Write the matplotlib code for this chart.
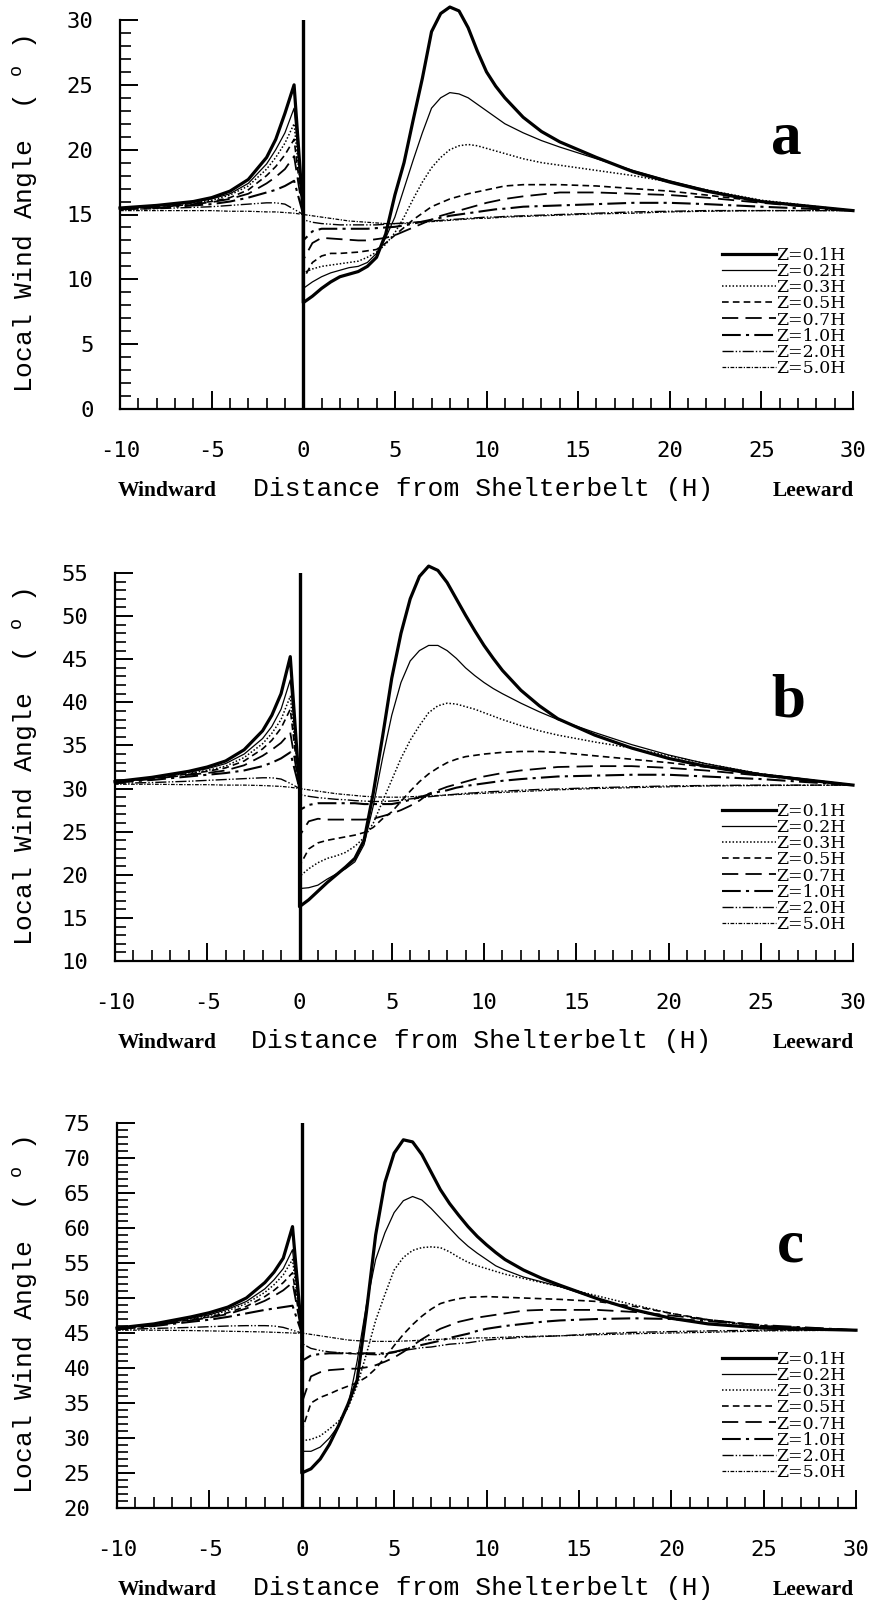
"""Local wind angle around a shelterbelt, three incidence angles."""

import matplotlib

matplotlib.use("Agg")
import matplotlib.pyplot as plt
from matplotlib.ticker import MultipleLocator

plt.rcParams["font.family"] = "DejaVu Sans Mono"
plt.rcParams["axes.unicode_minus"] = False
plt.rcParams["mathtext.fontset"] = "custom"
plt.rcParams["mathtext.rm"] = "Liberation Mono"

W, H = 885, 1603

Z_LABELS = ["Z=0.1H", "Z=0.2H", "Z=0.3H", "Z=0.5H", "Z=0.7H", "Z=1.0H", "Z=2.0H", "Z=5.0H"]
WALL_X = 0

WIND_X = [-10, -8, -6, -5, -4, -3, -2, -1.5, -1, -0.5, 0]
LEE_X = [0, 0.5, 1, 1.5, 2, 2.5, 3, 3.5, 4, 4.5, 5, 5.5, 6, 6.5, 7, 7.5, 8, 8.5, 9,
         9.5, 10, 10.5, 11, 12, 13, 14, 16, 18, 20, 22, 25, 30]

# panel a (15 deg)
A_WIND = [
    [15.5, 15.7, 16.0, 16.3, 16.8, 17.7, 19.4, 20.8, 22.8, 25.0, 15.0],
    [15.5, 15.7, 15.95, 16.2, 16.6, 17.4, 18.9, 20.0, 21.3, 23.2, 15.0],
    [15.5, 15.65, 15.9, 16.1, 16.5, 17.2, 18.5, 19.4, 20.5, 22.0, 15.0],
    [15.45, 15.6, 15.85, 16.0, 16.3, 16.9, 18.0, 18.7, 19.6, 20.8, 15.0],
    [15.45, 15.55, 15.8, 15.95, 16.2, 16.6, 17.4, 17.9, 18.5, 19.5, 15.0],
    [15.4, 15.5, 15.7, 15.8, 16.0, 16.3, 16.7, 16.9, 17.2, 17.6, 15.0],
    [15.4, 15.45, 15.55, 15.6, 15.7, 15.8, 15.9, 15.9, 15.8, 15.4, 15.0],
    [15.3, 15.3, 15.3, 15.3, 15.25, 15.25, 15.2, 15.2, 15.15, 15.1, 15.0],
]
A_LEE = [
    [8.2, 8.7, 9.3, 9.8, 10.2, 10.4, 10.6, 11.0, 11.7, 13.5, 16.5, 19.0, 22.3, 25.5, 29.1, 30.5,
     31.0, 30.7, 29.4, 27.6, 26.0, 24.9, 24.0, 22.5, 21.4, 20.6, 19.4, 18.3, 17.5, 16.8, 16.0, 15.3],
    [9.3, 9.8, 10.2, 10.5, 10.7, 10.9, 11.0, 11.3, 12.0, 13.2, 14.8, 17.0, 19.2, 21.3, 23.2, 24.0,
     24.4, 24.3, 24.0, 23.5, 23.0, 22.5, 22.0, 21.3, 20.7, 20.2, 19.3, 18.4, 17.6, 16.9, 16.0, 15.3],
    [10.5, 10.8, 11.0, 11.1, 11.2, 11.3, 11.4, 11.7, 12.1, 12.7, 13.6, 14.8, 16.2, 17.5, 18.6, 19.4,
     20.0, 20.3, 20.4, 20.3, 20.1, 19.9, 19.7, 19.3, 19.0, 18.8, 18.4, 18.0, 17.5, 16.9, 16.1, 15.3],
    [10.0, 11.3, 11.8, 12.0, 12.0, 12.05, 12.1, 12.2, 12.3, 12.8, 13.4, 14.0, 14.6, 15.1, 15.6, 15.9,
     16.2, 16.4, 16.6, 16.75, 16.9, 17.05, 17.2, 17.3, 17.3, 17.3, 17.2, 17.0, 16.8, 16.5, 16.0, 15.3],
    [11.5, 12.8, 13.2, 13.15, 13.1, 13.05, 13.0, 13.0, 13.1, 13.2, 13.4, 13.7, 14.0, 14.3, 14.6, 14.9,
     15.1, 15.3, 15.5, 15.7, 15.9, 16.05, 16.2, 16.4, 16.55, 16.7, 16.7, 16.6, 16.5, 16.3, 15.9, 15.3],
    [13.0, 13.7, 13.9, 13.9, 13.9, 13.9, 13.9, 13.9, 13.95, 14.0, 14.05, 14.15, 14.3, 14.45, 14.6, 14.75,
     14.9, 15.0, 15.1, 15.2, 15.3, 15.4, 15.45, 15.6, 15.65, 15.7, 15.8, 15.9, 15.9, 15.8, 15.6, 15.3],
    [14.6, 14.4, 14.3, 14.25, 14.2, 14.2, 14.2, 14.2, 14.2, 14.25, 14.3, 14.35, 14.4, 14.45, 14.5, 14.55,
     14.6, 14.65, 14.7, 14.75, 14.8, 14.8, 14.85, 14.9, 14.95, 15.0, 15.1, 15.2, 15.25, 15.3, 15.3, 15.3],
    [15.0, 14.9, 14.8, 14.7, 14.6, 14.5, 14.45, 14.4, 14.35, 14.3, 14.3, 14.3, 14.35, 14.4, 14.45, 14.5,
     14.55, 14.6, 14.65, 14.7, 14.7, 14.75, 14.8, 14.85, 14.9, 14.95, 15.05, 15.1, 15.2, 15.25, 15.3, 15.3],
]

# panel b (30 deg)
B_WIND = [
    [30.8, 31.3, 32.0, 32.5, 33.2, 34.5, 36.7, 38.5, 41.0, 45.3, 30.0],
    [30.8, 31.25, 31.9, 32.3, 32.9, 34.0, 35.8, 37.2, 39.2, 42.6, 30.0],
    [30.75, 31.2, 31.8, 32.1, 32.6, 33.6, 35.2, 36.4, 38.0, 40.7, 30.0],
    [30.75, 31.15, 31.7, 32.0, 32.4, 33.2, 34.6, 35.6, 37.0, 39.2, 30.0],
    [30.7, 31.1, 31.6, 31.8, 32.1, 32.7, 33.8, 34.5, 35.3, 36.5, 30.0],
    [30.7, 31.0, 31.4, 31.6, 31.8, 32.1, 32.6, 33.0, 33.5, 34.2, 30.0],
    [30.6, 30.7, 30.85, 30.95, 31.05, 31.15, 31.25, 31.25, 31.1, 30.6, 30.0],
    [30.5, 30.5, 30.45, 30.45, 30.4, 30.4, 30.35, 30.3, 30.25, 30.15, 30.0],
]
B_LEE = [
    [16.3, 17.1, 18.1, 19.1, 20.0, 20.9, 21.9, 24.0, 29.5, 36.0, 42.8, 48.0, 52.0, 54.6, 55.8, 55.3,
     53.9, 52.0, 50.1, 48.3, 46.6, 45.1, 43.7, 41.4, 39.6, 38.1, 36.2, 34.7, 33.5, 32.6, 31.6, 30.4],
    [18.4, 18.5, 18.8, 19.5, 20.1, 20.7, 21.5, 23.5, 28.0, 33.5, 38.5, 42.3, 44.8, 46.0, 46.6, 46.6,
     46.0, 45.1, 44.0, 43.1, 42.3, 41.6, 41.0, 39.9, 38.9, 38.0, 36.5, 35.1, 33.9, 32.9, 31.7, 30.4],
    [19.8, 20.7, 21.4, 21.9, 22.2, 22.6, 23.3, 24.3, 26.0, 28.5, 31.0, 33.5, 35.6, 37.3, 38.8, 39.6,
     39.9, 39.8, 39.5, 39.2, 38.8, 38.4, 38.0, 37.3, 36.7, 36.2, 35.4, 34.7, 33.8, 32.9, 31.7, 30.4],
    [21.0, 23.0, 23.7, 24.0, 24.2, 24.4, 24.6, 24.9, 25.5, 26.5, 27.3, 28.5, 29.7, 30.8, 31.7, 32.4,
     33.0, 33.4, 33.7, 33.85, 34.0, 34.1, 34.2, 34.3, 34.3, 34.2, 33.8, 33.4, 33.0, 32.5, 31.7, 30.4],
    [24.5, 26.2, 26.5, 26.4, 26.4, 26.4, 26.4, 26.4, 26.5, 26.8, 27.1, 27.5, 28.0, 28.6, 29.4, 29.8,
     30.2, 30.5, 30.8, 31.1, 31.4, 31.6, 31.8, 32.1, 32.3, 32.5, 32.6, 32.6, 32.4, 32.1, 31.5, 30.4],
    [27.5, 28.1, 28.3, 28.3, 28.3, 28.3, 28.3, 28.2, 28.2, 28.2, 28.2, 28.4, 28.7, 29.0, 29.3, 29.6,
     29.8, 30.1, 30.3, 30.45, 30.6, 30.75, 30.9, 31.1, 31.25, 31.4, 31.5, 31.6, 31.6, 31.4, 31.1, 30.4],
    [29.3, 29.1, 28.95, 28.85, 28.75, 28.7, 28.6, 28.55, 28.5, 28.5, 28.55, 28.65, 28.8, 28.9, 29.05,
     29.15, 29.25, 29.35, 29.45, 29.5, 29.6, 29.65, 29.7, 29.8, 29.9, 29.95, 30.1, 30.2, 30.3, 30.35,
     30.4, 30.4],
    [30.0, 29.85, 29.7, 29.55, 29.4, 29.3, 29.2, 29.1, 29.05, 29.0, 29.0, 29.0, 29.05, 29.1, 29.15,
     29.2, 29.25, 29.3, 29.35, 29.4, 29.45, 29.5, 29.55, 29.65, 29.75, 29.85, 30.0, 30.1, 30.2, 30.3,
     30.35, 30.4],
]

# panel c (45 deg)
C_WIND = [
    [45.7, 46.3, 47.3, 47.9, 48.7, 50.0, 52.2, 53.7, 55.7, 60.2, 45.0],
    [45.7, 46.2, 47.1, 47.6, 48.4, 49.5, 51.3, 52.6, 54.2, 56.9, 45.0],
    [45.65, 46.15, 47.0, 47.5, 48.2, 49.2, 50.8, 51.9, 53.3, 55.5, 45.0],
    [45.6, 46.1, 46.9, 47.3, 47.9, 48.8, 50.2, 51.1, 52.2, 53.6, 45.0],
    [45.6, 46.05, 46.8, 47.2, 47.7, 48.5, 49.6, 50.3, 51.1, 52.2, 45.0],
    [45.55, 46.0, 46.6, 46.9, 47.3, 47.8, 48.3, 48.5, 48.7, 48.9, 45.0],
    [45.5, 45.65, 45.8, 45.9, 46.0, 46.05, 46.05, 46.0, 45.8, 45.4, 45.0],
    [45.4, 45.4, 45.35, 45.3, 45.25, 45.2, 45.15, 45.1, 45.05, 45.0, 44.95],
]
C_LEE = [
    [25.0, 25.6, 27.0, 29.1, 31.8, 34.8, 38.3, 48.0, 59.0, 66.5, 70.7, 72.6, 72.3, 70.5, 68.0, 65.5,
     63.5, 61.8, 60.2, 58.8, 57.6, 56.5, 55.5, 54.0, 52.8, 51.8, 49.9, 48.3, 47.1, 46.3, 45.7, 45.4],
    [28.1, 28.1, 28.7, 30.0, 31.8, 34.5, 41.0, 49.0, 55.5, 59.3, 62.2, 63.9, 64.5, 64.0, 62.8, 61.4,
     60.0, 58.6, 57.4, 56.4, 55.5, 54.6, 54.0, 53.0, 52.3, 51.6, 49.9, 48.3, 47.1, 46.3, 45.7, 45.4],
    [29.6, 29.8, 30.3, 31.3, 32.4, 34.3, 37.5, 42.0, 46.8, 50.5, 54.0, 55.8, 56.8, 57.2, 57.3, 57.2,
     56.6, 55.8, 55.1, 54.6, 54.2, 53.8, 53.4, 52.8, 52.2, 51.6, 50.3, 49.0, 47.8, 46.8, 45.9, 45.4],
    [31.0, 35.0, 35.8, 36.3, 36.9, 37.4, 37.9, 38.7, 39.9, 41.5, 43.2, 44.8, 46.2, 47.4, 48.4, 49.2,
     49.6, 49.9, 50.1, 50.15, 50.2, 50.15, 50.1, 50.0, 49.9, 49.8, 49.5, 48.8, 47.8, 46.9, 46.0, 45.4],
    [35.0, 38.8, 39.4, 39.7, 39.8, 39.9, 39.9, 40.1, 40.4, 40.9, 41.5, 42.3, 43.2, 44.1, 44.9, 45.6,
     46.1, 46.6, 46.9, 47.2, 47.4, 47.6, 47.8, 48.2, 48.3, 48.3, 48.3, 48.0, 47.5, 46.9, 46.0, 45.4],
    [41.0, 41.8, 42.0, 42.1, 42.1, 42.1, 42.1, 42.1, 42.1, 42.1, 42.3, 42.6, 43.0, 43.3, 43.6, 43.9,
     44.3, 44.6, 44.9, 45.3, 45.6, 45.8, 46.0, 46.3, 46.6, 46.8, 47.0, 47.1, 47.0, 46.7, 46.1, 45.4],
    [43.5, 42.8, 42.5, 42.3, 42.2, 42.1, 42.0, 41.95, 41.9, 42.0, 42.2, 42.5, 42.7, 42.9, 43.0, 43.2,
     43.4, 43.5, 43.6, 43.8, 44.0, 44.1, 44.2, 44.4, 44.5, 44.6, 44.9, 45.1, 45.2, 45.3, 45.4, 45.4],
    [45.0, 44.8, 44.6, 44.4, 44.2, 44.0, 43.9, 43.85, 43.8, 43.8, 43.8, 43.85, 43.9, 44.0, 44.05, 44.1,
     44.15, 44.2, 44.25, 44.3, 44.3, 44.35, 44.4, 44.5, 44.55, 44.6, 44.75, 44.9, 45.0, 45.1, 45.3, 45.4],
]

STYLES = [
    dict(ls="-", lw=2.3),
    dict(ls="-", lw=0.9),
    dict(ls=(0, (1, 1.3)), lw=1.1),
    dict(ls=(0, (4, 2.5)), lw=1.2),
    dict(ls=(0, (9, 4)), lw=1.3),
    dict(ls=(0, (9, 2.5, 1.5, 2.5)), lw=1.5),
    dict(ls=(0, (8, 1.5, 1, 1.5, 1, 1.5)), lw=1.0),
    dict(ls=(0, (3, 1.2, 1, 1.2)), lw=0.9),
]

# pixel layout: (letter, wind, lee, ylim, left, right, top, bottom, letter xy, legend mid-y)
PANELS = [
    ("a", A_WIND, A_LEE, (0, 30), 120, 853, 20, 409, (786, 153), 312),
    ("b", B_WIND, B_LEE, (10, 55), 115, 853, 573, 961, (788, 717), 868),
    ("c", C_WIND, C_LEE, (20, 75), 117, 856, 1123, 1508, (790, 1262), 1416),
]


def fx(px):
    return px / W


def fy(py):
    return 1 - py / H


def main():
    fig = plt.figure(figsize=(W / 100, H / 100), dpi=100)

    for letter, wind, lee, ylim, left, right, top, bottom, lxy, leg_y in PANELS:
        ax = fig.add_axes([fx(left), fy(bottom), (right - left) / W, (bottom - top) / H])
        lines = []
        for i, label in enumerate(Z_LABELS):
            (ln,) = ax.plot(WIND_X + LEE_X, wind[i] + lee[i], color="black",
                            clip_on=False, label=label, **STYLES[i])
            lines.append(ln)
        ax.axvline(WALL_X, color="black", lw=2.4)

        ax.set_xlim(-10, 30)
        ax.set_ylim(*ylim)
        ax.xaxis.set_major_locator(MultipleLocator(5))
        ax.xaxis.set_minor_locator(MultipleLocator(1))
        ax.yaxis.set_major_locator(MultipleLocator(5))
        ax.yaxis.set_minor_locator(MultipleLocator(1))
        ax.tick_params(which="major", direction="in", length=13, width=1.4, labelsize=16)
        ax.tick_params(axis="x", which="major", pad=23)
        ax.tick_params(axis="y", which="major", pad=19)
        ax.tick_params(which="minor", direction="in", length=8, width=1.2)
        ax.spines[["top", "right"]].set_visible(False)
        ax.spines[["left", "bottom"]].set_linewidth(1.6)

        ax.legend(handles=lines, loc="center left", bbox_to_anchor=(fx(722), fy(leg_y)),
                  bbox_transform=fig.transFigure, frameon=False,
                  prop={"family": "DejaVu Serif", "size": 12.5},
                  handlelength=3.1, handletextpad=0.0, labelspacing=-0.05,
                  borderpad=0, borderaxespad=0)

        fig.text(fx(lxy[0]), fy(lxy[1]), letter, family="Liberation Serif",
                 weight="bold", size=44, ha="center", va="baseline")

        fig.text(fx(25), fy((top + bottom) / 2), "Local Wind Angle  ( $^{\\rm o}$ )",
                 family="Liberation Mono", size=19, rotation=90, ha="center", va="center")
        base = bottom + 87
        fig.text(fx((left + right) / 2 - 3), fy(base), "Distance from Shelterbelt (H)",
                 family="Liberation Mono", size=19, ha="center", va="baseline")
        fig.text(fx(167), fy(base), "Windward", family="Liberation Serif",
                 weight="bold", size=15.5, ha="center", va="baseline")
        fig.text(fx(813), fy(base), "Leeward", family="Liberation Serif",
                 weight="bold", size=15.5, ha="center", va="baseline")

    fig.savefig("out.png", dpi=100)


if __name__ == "__main__":
    main()
